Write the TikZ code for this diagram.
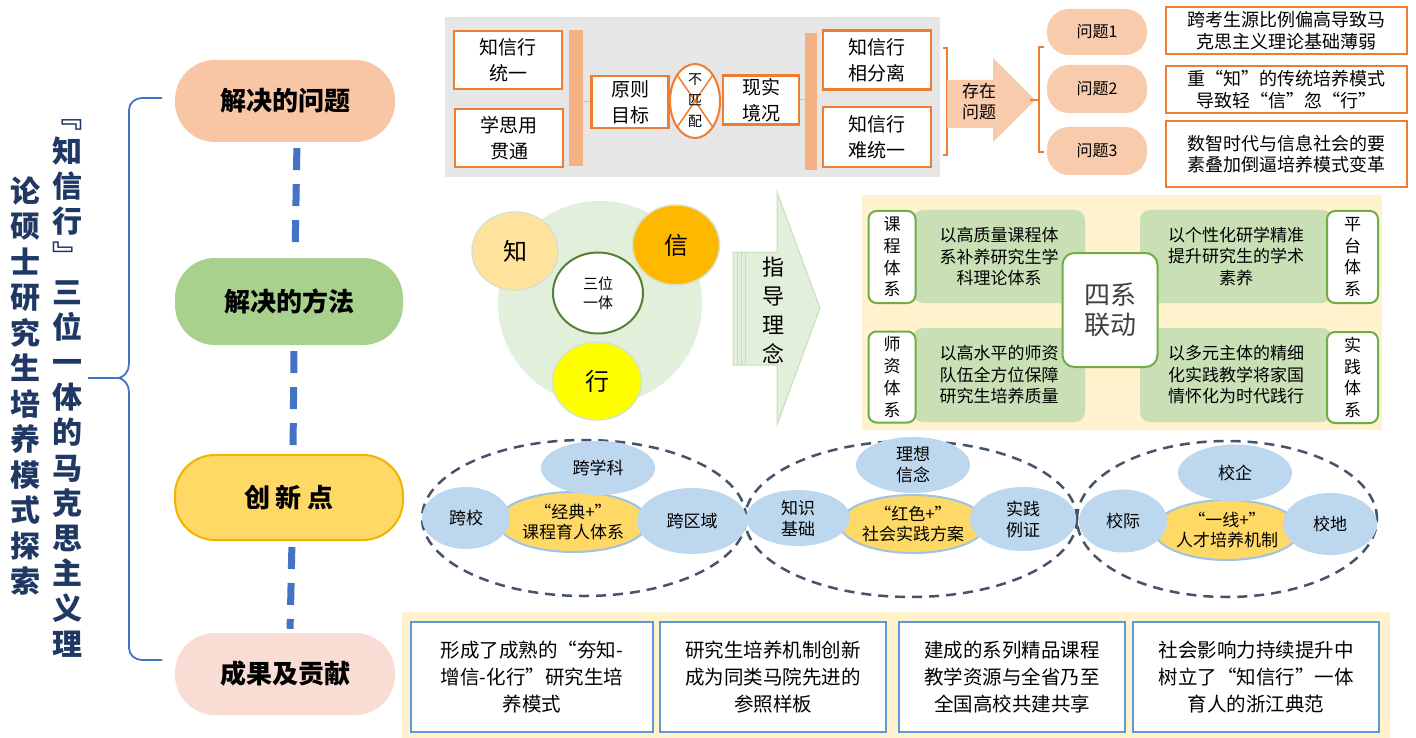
\documentclass[tikz,border=0pt]{standalone}
\usepackage{fontspec}
\setmainfont{Noto Sans CJK SC}
\usetikzlibrary{positioning,shapes.geometric}

\definecolor{titlenavy}{HTML}{1F3864}
\definecolor{braceblue}{HTML}{4472C4}
\definecolor{peachpill}{HTML}{F8C6A5}
\definecolor{greenpill}{HTML}{A9D18E}
\definecolor{yellowpill}{HTML}{FFD966}
\definecolor{goldline}{HTML}{F0B400}
\definecolor{pinkpill}{HTML}{F9DCD3}
\definecolor{panelgray}{HTML}{E7E6E6}
\definecolor{orangeline}{HTML}{ED7D31}
\definecolor{orangebar}{HTML}{F4B183}
\definecolor{peach}{HTML}{F8CBAD}
\definecolor{paleyellow}{HTML}{FFF2CC}
\definecolor{blockgreen}{HTML}{C9E0B6}
\definecolor{boxgreen}{HTML}{70AD47}
\definecolor{palegreen}{HTML}{E2EFDA}
\definecolor{zhicol}{HTML}{FFE29B}
\definecolor{xincol}{HTML}{FFB800}
\definecolor{xingcol}{HTML}{FFFF00}
\definecolor{darkgreen}{HTML}{548235}
\definecolor{slateline}{HTML}{44546A}
\definecolor{ellblue}{HTML}{BDD7EE}
\definecolor{ellrim}{HTML}{9DC3E6}
\definecolor{boxblue}{HTML}{5B9BD5}
\definecolor{softrim}{HTML}{D5E3C8}

\newcommand{\fsz}[2]{\fontsize{#1}{#2}\selectfont}

\begin{document}
\begin{tikzpicture}[x=1pt, y=-1pt,
	pillstyle/.style={rounded corners=40pt, minimum width=220pt, minimum height=82pt,
	font=\fsz{26}{30}\bfseries},
	obox/.style={draw=orangeline, line width=2.5pt, fill=white, inner sep=0pt,
	align=center, font=\fsz{19}{26}},
	obar/.style={fill=orangebar, inner sep=0pt, minimum width=14pt},
	qpill/.style={fill=peach, rounded corners=22pt, minimum width=100pt,
	minimum height=47pt, font=\fsz{16}{18}},
	qbox/.style={draw=orangeline, line width=2.5pt, fill=white, inner sep=0pt,
	minimum width=241pt, align=center, font=\fsz{18}{21.5}},
	ring/.style={ellipse, inner sep=0pt, draw=softrim, line width=1.5pt,
	font=\fsz{24}{26}},
	gblock/.style={fill=blockgreen, rounded corners=10pt, inner sep=0pt,
	align=center, font=\fsz{17}{21.5}},
	vbox/.style={fill=white, draw=boxgreen, line width=2pt, rounded corners=8pt,
	inner sep=1pt, align=center, font=\fsz{17}{21.7}},
	dashell/.style={ellipse, draw=slateline, line width=2.5pt,
	dash pattern=on 10pt off 7pt},
	blueell/.style={ellipse, fill=ellblue, inner sep=0pt, align=center,
	font=\fsz{17}{21}},
	yellell/.style={ellipse, fill=yellowpill, draw=ellrim, line width=2pt,
	inner sep=0pt, align=center, font=\fsz{17}{20}},
	rbox/.style={draw=boxblue, line width=2pt, fill=white, inner sep=0pt,
	minimum height=110pt, align=center, font=\fsz{19.5}{27}},
	dashline/.style={draw=braceblue, line width=7pt, dash pattern=on 22pt off 14pt},
	]
	\fill[white] (0,0) rectangle (1416,738);
	\useasboundingbox (0,0) rectangle (1416,738);

	% title and brace
	\node[font=\fsz{30}{35.2}\bfseries, text=titlenavy, align=center, inner sep=0pt]
	(titleR) at (67,388) {﹃\\知\\信\\行\\﹄\\三\\位\\一\\体\\的\\马\\克\\思\\主\\义\\理};
	\node[font=\fsz{30}{35.5}\bfseries, text=titlenavy, align=center, inner sep=0pt]
	(titleL) at (25,386) {论\\硕\\士\\研\\究\\生\\培\\养\\模\\式\\探\\索};
	\coordinate (bracetip) at (88,378);
	\draw[braceblue, line width=1.8pt] (162,98) -- (142,98) to[out=180,in=90] (129,110)
	-- (129,364) to[out=-90,in=0] (117,378) -- (bracetip);
	\draw[braceblue, line width=1.8pt] (162,660) -- (142,660) to[out=180,in=-90] (129,648)
	-- (129,392) to[out=90,in=0] (117,378);

	% left column
	\node[pillstyle, fill=peachpill] (prob) at (285,101) {解决的问题};
	\node[pillstyle, fill=greenpill, minimum width=228pt, minimum height=87pt]
	(meth) at (289,301.5) {解决的方法};
	\node[pillstyle, fill=yellowpill, draw=goldline, line width=2pt, minimum width=228pt,
	minimum height=85pt] (inno) at (289,497.5) {创\ 新\ 点};
	\node[pillstyle, fill=pinkpill] (res) at (285,674) {成果及贡献};
	\draw[dashline, shorten <=6pt, shorten >=4pt] ([xshift=12pt]prob.south) -- ([xshift=6pt]meth.north);
	\draw[dashline, shorten <=6pt, shorten >=4pt] ([xshift=5pt]meth.south) -- ([xshift=4pt]inno.north);
	\draw[dashline, shorten <=6pt, shorten >=4pt] ([xshift=3pt]inno.south) -- ([xshift=5pt]res.north);

	% problems
	\node[fill=panelgray, minimum width=495pt, minimum height=160pt, inner sep=0pt]
	(toppanel) at (692.5,97) {};
	\node[obox, minimum width=108pt, minimum height=58pt] (unity) at (508,60) {知信行\\统一};
	\node[obox, minimum width=108pt, minimum height=58pt] (learn) at (509,138) {学思用\\贯通};
	\node[obar, minimum height=136pt] (barL) at (575.5,98) {};
	\node[obox, minimum width=77pt, minimum height=52pt] (goal) at (630,102) {原则\\目标};
	\node[ellipse, draw=orangeline, line width=2pt, fill=white, minimum width=50pt,
	minimum height=74pt, inner sep=0pt] (mismatch) at (695,101) {};
	\draw[orangeline, line width=1.5pt] (mismatch.north west) -- (mismatch.south east)
	(mismatch.north east) -- (mismatch.south west);
	\node[font=\fsz{14}{21}, align=center] (mismatchtxt) at (mismatch) {不\\匹\\配};
	\node[obox, minimum width=76pt, minimum height=49pt] (reality) at (761,100) {现实\\境况};
	\node[obar, minimum width=12pt, minimum height=137pt] (barR) at (811,101.5) {};
	\node[obox, minimum width=108pt, minimum height=59pt] (apart) at (877,60) {知信行\\相分离};
	\node[obox, minimum width=108pt, minimum height=60pt] (hard) at (877,137) {知信行\\难统一};
	\draw[orangebar, line width=1pt] (barL.east |- goal.west) -- (goal.west);
	\draw[orangebar, line width=1pt] (reality.east) -- (reality.east -| barR.west);

	\draw[orangeline, line width=2pt] (943,48) -- (947,48) -- (947,155) -- (943,155);
	\fill[peach] (947,80) -- (993,80) -- (993,58) -- (1035,100) -- (993,142)
	-- (993,128) -- (947,128) -- cycle;
	\coordinate (existtip) at (1030,100);
	\coordinate (qbrace) at (1039,100);
	\node[font=\fsz{17}{21}, align=center] (exist) at (979,102) {存在\\问题};
	\draw[orangeline, line width=2pt] (1044,47) -- (1039,47) -- (1039,152) -- (1044,152);
	\draw[orangeline, line width=2pt] (existtip) -- (qbrace);

	\node[qpill, minimum height=46pt] (q1) at (1097,32) {问题1};
	\node[qpill, minimum height=48pt] (q2) at (1097,89) {问题2};
	\node[qpill, minimum height=48pt] (q3) at (1097,151) {问题3};
	\node[qbox, minimum height=47pt] (d1) at (1286.5,30.5) {跨考生源比例偏高导致马\\克思主义理论基础薄弱};
	\node[qbox, minimum height=47pt] (d2) at (1286.5,89.5) {重“知”的传统培养模式\\导致轻“信”忽“行”};
	\node[qbox, minimum height=66pt] (d3) at (1286.5,154) {数智时代与信息社会的要\\素叠加倒逼培养模式变革};

	% method
	\node[circle, fill=palegreen, minimum size=204pt] (unitycircle) at (600,303) {};
	\node[ring, fill=zhicol, minimum width=86pt, minimum height=78pt] (zhi) at (515,251) {知};
	\node[ring, fill=xincol, minimum width=87pt, minimum height=80pt] (xin) at (676,245) {信};
	\node[ring, fill=xingcol, minimum width=89pt, minimum height=78pt] (xing) at (597,381) {行};
	\node[ellipse, fill=white, draw=darkgreen, line width=2pt, minimum width=90pt,
	minimum height=81pt, inner sep=0pt, align=center, font=\fsz{15}{19}]
	(trinity) at (598,293) {三位\\一体};

	\filldraw[fill=palegreen, draw=blockgreen, line width=1pt] (733,252) -- (777,252)
	-- (777,192) -- (820,308) -- (777,425) -- (777,365) -- (733,365) -- cycle;
	\foreach \sx in {737,741,745}
	\draw[blockgreen, line width=0.8pt] (\sx,252) -- (\sx,365);
	\node[font=\fsz{22}{29}, align=center] (guide) at (773,310) {指\\导\\理\\念};

	\node[fill=paleyellow, minimum width=520pt, minimum height=235pt, inner sep=0pt]
	(syspanel) at (1122,312.5) {};
	\node[gblock, minimum width=172pt, minimum height=93pt] (courseblk) at (999,256.5)
	{以高质量课程体\\系补养研究生学\\科理论体系};
	\node[gblock, minimum width=192pt, minimum height=93pt] (platblk) at (1236,256.5)
	{以个性化研学精准\\提升研究生的学术\\素养};
	\node[gblock, minimum width=172pt, minimum height=94pt] (teachblk) at (999,375)
	{以高水平的师资\\队伍全方位保障\\研究生培养质量};
	\node[gblock, minimum width=192pt, minimum height=94pt] (pracblk) at (1236,375)
	{以多元主体的精细\\化实践教学将家国\\情怀化为时代践行};
	\node[vbox, minimum width=47pt, minimum height=92pt] (coursesys) at (892,257) {课\\程\\体\\系};
	\node[vbox, minimum width=47pt, minimum height=91pt] (teachsys) at (892,377) {师\\资\\体\\系};
	\node[vbox, minimum width=51pt, minimum height=92pt] (platsys) at (1352.5,257) {平\\台\\体\\系};
	\node[vbox, minimum width=51pt, minimum height=91pt] (pracsys) at (1352.5,377.5) {实\\践\\体\\系};
	\node[vbox, rounded corners=12pt, minimum width=95pt, minimum height=114pt,
	font=\fsz{26}{30}, text=black!75] (linkage) at (1110,310) {四系\\联动};

	% innovation
	\node[dashell, minimum width=324pt, minimum height=156pt] (innoA) at (584,518) {};
	\node[dashell, minimum width=332pt, minimum height=156pt] (innoB) at (911,519) {};
	\node[dashell, minimum width=300pt, minimum height=156pt] (innoC) at (1227,519) {};

	\node[yellell, minimum width=150pt, minimum height=60pt] (classic) at (573,522) {“经典+”\\课程育人体系};
	\node[blueell, minimum width=114pt, minimum height=54pt] (crossdisc) at (598,468) {跨学科};
	\node[blueell, minimum width=88pt, minimum height=62pt] (crossschool) at (466,518) {跨校};
	\node[blueell, minimum width=110pt, minimum height=66pt] (crossregion) at (692,521) {跨区域};

	\node[yellell, minimum width=146pt, minimum height=58pt] (redplus) at (913,524) {“红色+”\\社会实践方案};
	\node[blueell, minimum width=114pt, minimum height=56pt] (ideal) at (913,465) {理想\\信念};
	\node[blueell, minimum width=104pt, minimum height=56pt] (knowbase) at (798,518) {知识\\基础};
	\node[blueell, minimum width=106pt, minimum height=64pt] (proof) at (1023,519) {实践\\例证};

	\node[yellell, minimum width=146pt, minimum height=60pt] (frontline) at (1227,530) {“一线+”\\人才培养机制};
	\node[blueell, minimum width=114pt, minimum height=57pt] (schoolfirm) at (1235,473) {校企};
	\node[blueell, minimum width=88pt, minimum height=63pt] (interschool) at (1123,521) {校际};
	\node[blueell, minimum width=94pt, minimum height=62pt] (schoolloc) at (1330,524) {校地};

	% results
	\node[fill=paleyellow, minimum width=988pt, minimum height=126pt, inner sep=0pt]
	(respanel) at (896,675) {};
	\node[rbox, minimum width=242pt] (mode) at (532,677) {形成了成熟的“夯知-\\增信-化行”研究生培\\养模式};
	\node[rbox, minimum width=226pt] (mech) at (773,677) {研究生培养机制创新\\成为同类马院先进的\\参照样板};
	\node[rbox, minimum width=226pt] (course) at (1012,677) {建成的系列精品课程\\教学资源与全省乃至\\全国高校共建共享};
	\node[rbox, minimum width=246pt] (impact) at (1256,677) {社会影响力持续提升中\\树立了“知信行”一体\\育人的浙江典范};
\end{tikzpicture}
\end{document}
